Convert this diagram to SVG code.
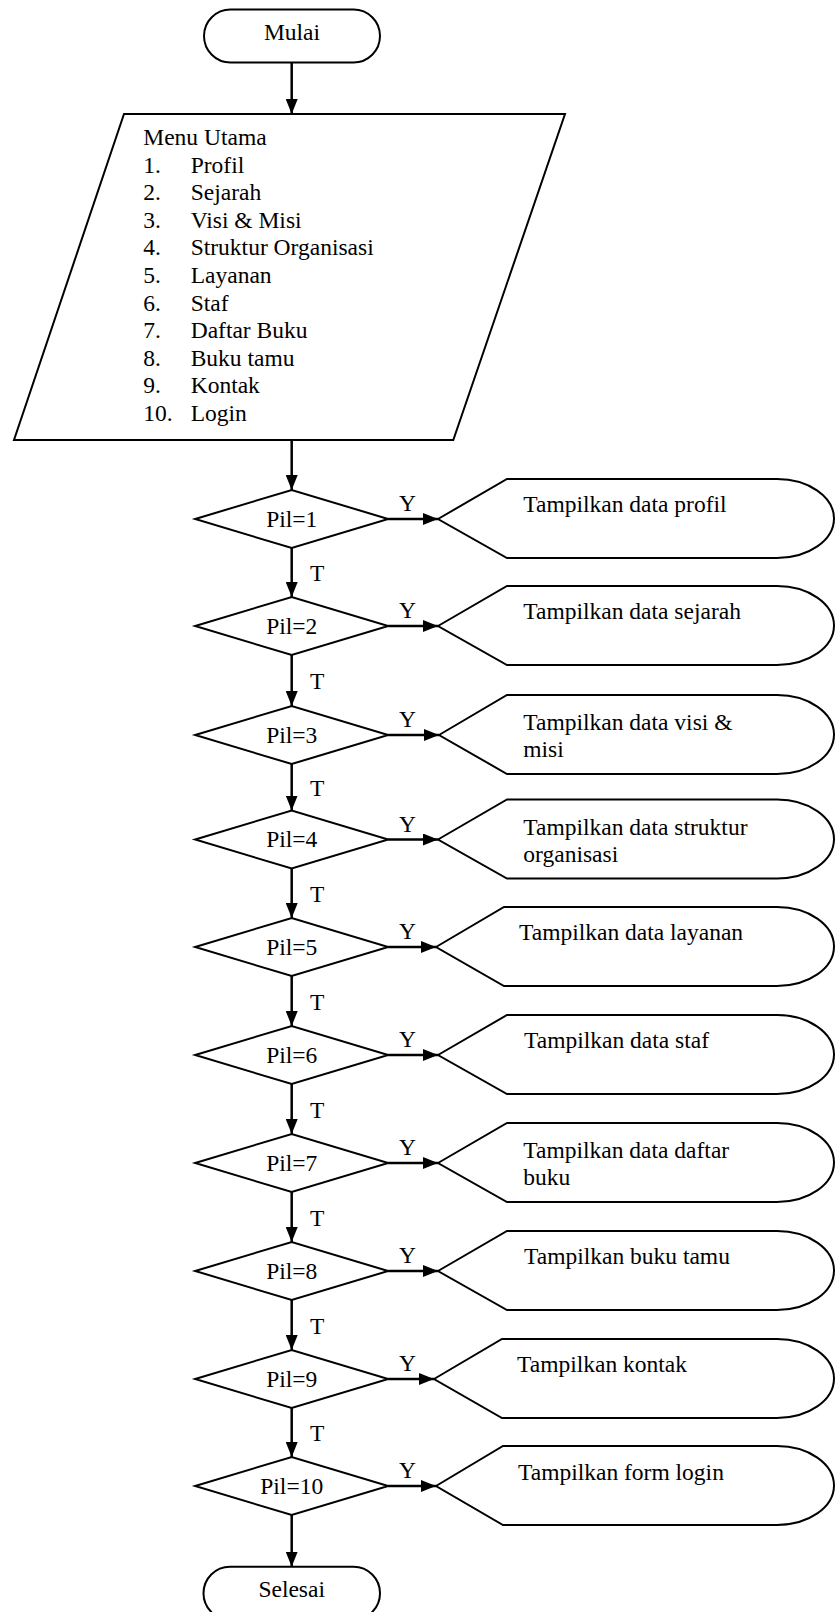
<svg xmlns="http://www.w3.org/2000/svg" width="835" height="1612" viewBox="0 0 835 1612">
<style>
.s{fill:#fff;stroke:#000;stroke-width:2;stroke-linejoin:miter}
.t{font-family:"Liberation Serif","Times New Roman",serif;font-size:23.5px;fill:#000}
.m{text-anchor:middle}
.c{stroke:#000;stroke-width:2.5;fill:none}
</style>
<defs>
<marker id="ah" markerUnits="userSpaceOnUse" markerWidth="15" markerHeight="12" refX="15" refY="6" orient="auto">
<path d="M0,0 L15,6 L0,12 z" fill="#000"/>
</marker>
</defs>
<rect width="835" height="1612" fill="#fff"/>
<g id="mulai"><rect class="s" x="204" y="9.5" width="176" height="53" rx="26.5"/><text class="t m" x="292" y="39.5">Mulai</text></g>
<g id="menu">
<polygon class="s" points="124,114 565,114 453.3,440 14,440"/>
<text class="t" x="143.3" y="145">Menu Utama</text>
<text class="t" x="143.3" y="172.6">1.</text><text class="t" x="190.7" y="172.6">Profil</text>
<text class="t" x="143.3" y="200.2">2.</text><text class="t" x="190.7" y="200.2">Sejarah</text>
<text class="t" x="143.3" y="227.8">3.</text><text class="t" x="190.7" y="227.8">Visi &amp; Misi</text>
<text class="t" x="143.3" y="255.4">4.</text><text class="t" x="190.7" y="255.4">Struktur Organisasi</text>
<text class="t" x="143.3" y="283">5.</text><text class="t" x="190.7" y="283">Layanan</text>
<text class="t" x="143.3" y="310.6">6.</text><text class="t" x="190.7" y="310.6">Staf</text>
<text class="t" x="143.3" y="338.2">7.</text><text class="t" x="190.7" y="338.2">Daftar Buku</text>
<text class="t" x="143.3" y="365.8">8.</text><text class="t" x="190.7" y="365.8">Buku tamu</text>
<text class="t" x="143.3" y="393.4">9.</text><text class="t" x="190.7" y="393.4">Kontak</text>
<text class="t" x="143.3" y="421">10.</text><text class="t" x="190.7" y="421">Login</text>
</g>
<g id="d1"><polygon class="s" points="195.2,519 291.7,490 388.2,519 291.7,548"/><text class="t m" x="291.7" y="526.5">Pil=1</text></g>
<g id="o1"><path class="s" d="M438,519 L507,479 L777,479 A57,39.5 0 0 1 777,558 L507,558 Z"/><text class="t" x="523.3" y="512">Tampilkan data profil</text></g>
<g id="d2"><polygon class="s" points="195.2,626 291.7,597 388.2,626 291.7,655"/><text class="t m" x="291.7" y="633.5">Pil=2</text></g>
<g id="o2"><path class="s" d="M438,626 L507,586 L777,586 A57,39.5 0 0 1 777,665 L507,665 Z"/><text class="t" x="523.3" y="619">Tampilkan data sejarah</text></g>
<g id="d3"><polygon class="s" points="195.2,735 291.7,706 388.2,735 291.7,764"/><text class="t m" x="291.7" y="742.5">Pil=3</text></g>
<g id="o3"><path class="s" d="M439,735 L507,695 L777,695 A57,39.5 0 0 1 777,774 L507,774 Z"/><text class="t" x="523.3" y="730">Tampilkan data visi &amp;</text><text class="t" x="523.3" y="757">misi</text></g>
<g id="d4"><polygon class="s" points="195.2,839.5 291.7,810.5 388.2,839.5 291.7,868.5"/><text class="t m" x="291.7" y="847">Pil=4</text></g>
<g id="o4"><path class="s" d="M438,839.5 L507,799.5 L777,799.5 A57,39.5 0 0 1 777,878.5 L507,878.5 Z"/><text class="t" x="523.3" y="834.5">Tampilkan data struktur</text><text class="t" x="523.3" y="861.5">organisasi</text></g>
<g id="d5"><polygon class="s" points="195.2,947 291.7,918 388.2,947 291.7,976"/><text class="t m" x="291.7" y="954.5">Pil=5</text></g>
<g id="o5"><path class="s" d="M436,947 L504,907 L777,907 A57,39.5 0 0 1 777,986 L504,986 Z"/><text class="t" x="519" y="940">Tampilkan data layanan</text></g>
<g id="d6"><polygon class="s" points="195.2,1055 291.7,1026 388.2,1055 291.7,1084"/><text class="t m" x="291.7" y="1062.5">Pil=6</text></g>
<g id="o6"><path class="s" d="M438,1055 L507,1015 L777,1015 A57,39.5 0 0 1 777,1094 L507,1094 Z"/><text class="t" x="524" y="1048">Tampilkan data staf</text></g>
<g id="d7"><polygon class="s" points="195.2,1163 291.7,1134 388.2,1163 291.7,1192"/><text class="t m" x="291.7" y="1170.5">Pil=7</text></g>
<g id="o7"><path class="s" d="M438,1163 L507,1123 L777,1123 A57,39.5 0 0 1 777,1202 L507,1202 Z"/><text class="t" x="523.3" y="1158">Tampilkan data daftar</text><text class="t" x="523.3" y="1185">buku</text></g>
<g id="d8"><polygon class="s" points="195.2,1271 291.7,1242 388.2,1271 291.7,1300"/><text class="t m" x="291.7" y="1278.5">Pil=8</text></g>
<g id="o8"><path class="s" d="M438,1271 L507,1231 L777,1231 A57,39.5 0 0 1 777,1310 L507,1310 Z"/><text class="t" x="524" y="1264">Tampilkan buku tamu</text></g>
<g id="d9"><polygon class="s" points="195.2,1379 291.7,1350 388.2,1379 291.7,1408"/><text class="t m" x="291.7" y="1386.5">Pil=9</text></g>
<g id="o9"><path class="s" d="M434,1379 L502,1339 L777,1339 A57,39.5 0 0 1 777,1418 L502,1418 Z"/><text class="t" x="517" y="1372">Tampilkan kontak</text></g>
<g id="d10"><polygon class="s" points="195.2,1486 291.7,1457 388.2,1486 291.7,1515"/><text class="t m" x="291.7" y="1493.5">Pil=10</text></g>
<g id="o10"><path class="s" d="M436,1486 L503,1446 L777,1446 A57,39.5 0 0 1 777,1525 L503,1525 Z"/><text class="t" x="518" y="1479.5">Tampilkan form login</text></g>
<g id="selesai"><rect class="s" x="203.5" y="1566.7" width="176.5" height="53" rx="26.5"/><text class="t m" x="291.7" y="1596.5">Selesai</text></g>
<g id="connectors">
<line class="c" x1="291.7" y1="62.5" x2="291.7" y2="114" marker-end="url(#ah)"/>
<line class="c" x1="291.7" y1="440" x2="291.7" y2="490" marker-end="url(#ah)"/>
<line class="c" x1="291.7" y1="548" x2="291.7" y2="597" marker-end="url(#ah)"/>
<line class="c" x1="291.7" y1="655" x2="291.7" y2="706" marker-end="url(#ah)"/>
<line class="c" x1="291.7" y1="764" x2="291.7" y2="810.5" marker-end="url(#ah)"/>
<line class="c" x1="291.7" y1="868.5" x2="291.7" y2="918" marker-end="url(#ah)"/>
<line class="c" x1="291.7" y1="976" x2="291.7" y2="1026" marker-end="url(#ah)"/>
<line class="c" x1="291.7" y1="1084" x2="291.7" y2="1134" marker-end="url(#ah)"/>
<line class="c" x1="291.7" y1="1192" x2="291.7" y2="1242" marker-end="url(#ah)"/>
<line class="c" x1="291.7" y1="1300" x2="291.7" y2="1350" marker-end="url(#ah)"/>
<line class="c" x1="291.7" y1="1408" x2="291.7" y2="1457" marker-end="url(#ah)"/>
<line class="c" x1="291.7" y1="1515" x2="291.7" y2="1566.7" marker-end="url(#ah)"/>
<line class="c" x1="388.2" y1="519" x2="438" y2="519" marker-end="url(#ah)"/>
<line class="c" x1="388.2" y1="626" x2="438" y2="626" marker-end="url(#ah)"/>
<line class="c" x1="388.2" y1="735" x2="439" y2="735" marker-end="url(#ah)"/>
<line class="c" x1="388.2" y1="839.5" x2="438" y2="839.5" marker-end="url(#ah)"/>
<line class="c" x1="388.2" y1="947" x2="436" y2="947" marker-end="url(#ah)"/>
<line class="c" x1="388.2" y1="1055" x2="438" y2="1055" marker-end="url(#ah)"/>
<line class="c" x1="388.2" y1="1163" x2="438" y2="1163" marker-end="url(#ah)"/>
<line class="c" x1="388.2" y1="1271" x2="438" y2="1271" marker-end="url(#ah)"/>
<line class="c" x1="388.2" y1="1379" x2="434" y2="1379" marker-end="url(#ah)"/>
<line class="c" x1="388.2" y1="1486" x2="436" y2="1486" marker-end="url(#ah)"/>
<g class="t">
<text x="399" y="511">Y</text><text x="399" y="618">Y</text><text x="399" y="727">Y</text><text x="399" y="831.5">Y</text><text x="399" y="939">Y</text>
<text x="399" y="1047">Y</text><text x="399" y="1155">Y</text><text x="399" y="1263">Y</text><text x="399" y="1371">Y</text><text x="399" y="1478">Y</text>
<text x="310" y="581">T</text><text x="310" y="689">T</text><text x="310" y="795.5">T</text><text x="310" y="901.5">T</text><text x="310" y="1009.5">T</text>
<text x="310" y="1117.5">T</text><text x="310" y="1225.5">T</text><text x="310" y="1333.5">T</text><text x="310" y="1441">T</text>
</g>
</g>
</svg>
